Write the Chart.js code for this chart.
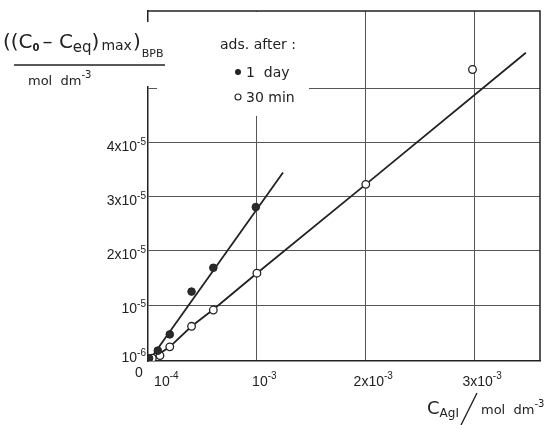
<!DOCTYPE html>
<html>
<head>
<meta charset="utf-8">
<script src="https://cdn.jsdelivr.net/npm/chart.js@4.4.0/dist/chart.umd.min.js"></script>
<style>
  body { margin: 0; background: #fff; }
  #wrap { width: 553px; height: 425px; }
</style>
</head>
<body>
<div id="wrap"><canvas id="chart" width="553" height="425"></canvas></div>
<script>
// --- Data (mol dm^-3) ---
// adsorption after 1 day (filled circles)
const dayX = [0.01e-3, 0.09e-3, 0.2e-3, 0.4e-3, 0.6e-3, 0.99e-3];
const dayY = [0.02e-5, 0.16e-5, 0.46e-5, 1.25e-5, 1.69e-5, 2.81e-5];
// adsorption after 30 min (open circles)
const minX = [0.04e-3, 0.11e-3, 0.2e-3, 0.4e-3, 0.6e-3, 1.0e-3, 2.0e-3, 2.98e-3];
const minY = [0.02e-5, 0.07e-5, 0.23e-5, 0.61e-5, 0.91e-5, 1.59e-5, 3.23e-5, 5.35e-5];
// hand drawn lines
const dayFitX = [0.02e-3, 1.24e-3];
const dayFitY = [0, 3.45e-5];
const minFitX = [0.03e-3, 0.2e-3, 0.4e-3, 0.6e-3, 1.0e-3, 2.0e-3, 3.47e-3];
const minFitY = [0, 0.23e-5, 0.61e-5, 0.92e-5, 1.59e-5, 3.23e-5, 5.66e-5];

// ticks: [base, superscript]
const xTicks = [1e-4, 1e-3, 2e-3, 3e-3];
const xTickLabels = [['10', '-4'], ['10', '-3'], ['2x10', '-3'], ['3x10', '-3']];
const yTicks = [1e-6, 1e-5, 2e-5, 3e-5, 4e-5, 5e-5];
const yTickLabels = [['10', '-6'], ['10', '-5'], ['2x10', '-5'], ['3x10', '-5'], ['4x10', '-5'], ['', '']];

const FONT = "'Liberation Sans', Arial, sans-serif";
const WIDE = "'DejaVu Sans', sans-serif";
const INK = '#222';

function pts(xs, ys) {
  return xs.map((x, i) => ({ x, y: ys[i] }));
}

// draw a run of text pieces: {t, size, dy, bold, gap, fam}
function drawParts(ctx, x, y, parts, align) {
  let total = 0;
  const font = p => (p.bold ? 'bold ' : '') + p.size + 'px ' + (p.fam || FONT);
  parts.forEach(p => {
    ctx.font = font(p);
    p.w = ctx.measureText(p.t).width + (p.gap || 0);
    total += p.w;
  });
  if (align === 'right') x -= total;
  if (align === 'center') x -= total / 2;
  parts.forEach(p => {
    ctx.font = font(p);
    ctx.fillText(p.t, x, y + (p.dy || 0));
    x += p.w;
  });
}

const decorPlugin = {
  id: 'decor',
  beforeDatasetsDraw(chart) {
    const { ctx, chartArea: a } = chart;
    ctx.save();
    // legend area hides the grid
    ctx.fillStyle = '#fff';
    ctx.fillRect(157, a.top + 1, 152, 104);
    // gap in the left axis for the y title
    ctx.fillRect(a.left - 3, 22, 6, 64);
    // top and right frame
    ctx.strokeStyle = INK;
    ctx.lineWidth = 1.5;
    ctx.beginPath();
    ctx.moveTo(a.left - 0.75, a.top);
    ctx.lineTo(a.right, a.top);
    ctx.lineTo(a.right, a.bottom);
    ctx.stroke();
    ctx.restore();
  },
  afterDraw(chart) {
    const { ctx } = chart;
    const xs = chart.scales.x, ys = chart.scales.y;
    ctx.save();
    ctx.fillStyle = INK;
    ctx.textBaseline = 'alphabetic';

    // y tick labels
    yTicks.forEach((v, i) => {
      const [base, sup] = yTickLabels[i];
      if (!base) return;
      const py = ys.getPixelForValue(v);
      drawParts(ctx, 146, py + 8, [
        { t: base, size: 14 },
        { t: sup, size: 10, dy: -6 }
      ], 'right');
    });
    // x tick labels (base centred on the tick)
    xTicks.forEach((v, i) => {
      const [base, sup] = xTickLabels[i];
      const px = xs.getPixelForValue(v);
      ctx.font = '14px ' + FONT;
      const w = ctx.measureText(base).width;
      drawParts(ctx, px + 3 - w / 2, 386, [
        { t: base, size: 14 },
        { t: sup, size: 10, dy: -7 }
      ], 'left');
    });
    // origin
    ctx.font = '14px ' + FONT;
    ctx.textAlign = 'center';
    ctx.fillText('0', 139, 377);
    ctx.textAlign = 'left';

    // y axis title
    drawParts(ctx, 3, 48, [
      { t: '((C', size: 20, fam: WIDE },
      { t: '0', size: 10, dy: 3, bold: true, gap: 3, fam: WIDE },
      { t: '\u2013 C', size: 20, fam: WIDE },
      { t: 'eq', size: 15, dy: 4, fam: WIDE },
      { t: ')', size: 20, gap: 2, fam: WIDE },
      { t: 'max', size: 14, dy: 2, gap: 1, fam: WIDE },
      { t: ')', size: 20, gap: 1, fam: WIDE },
      { t: 'BPB', size: 11, dy: 9, fam: WIDE }
    ], 'left');
    ctx.strokeStyle = INK;
    ctx.lineWidth = 1.4;
    ctx.beginPath();
    ctx.moveTo(14, 65);
    ctx.lineTo(165, 65);
    ctx.stroke();
    drawParts(ctx, 28, 85, [
      { t: 'mol  dm', size: 13, fam: WIDE },
      { t: '-3', size: 10, dy: -7, fam: WIDE }
    ], 'left');

    // x axis title
    drawParts(ctx, 427, 414, [
      { t: 'C', size: 18, fam: WIDE },
      { t: 'AgI', size: 12, dy: 3, fam: WIDE }
    ], 'left');
    ctx.beginPath();
    ctx.moveTo(477, 393);
    ctx.lineTo(461, 425);
    ctx.stroke();
    drawParts(ctx, 481, 414, [
      { t: 'mol  dm', size: 13, fam: WIDE },
      { t: '-3', size: 10, dy: -7, fam: WIDE }
    ], 'left');

    // legend
    drawParts(ctx, 220, 49, [{ t: 'ads. after :', size: 14, fam: WIDE }], 'left');
    ctx.lineWidth = 1.1;
    ctx.beginPath();
    ctx.arc(238, 72, 3, 0, Math.PI * 2);
    ctx.fill();
    ctx.beginPath();
    ctx.arc(238, 97, 3, 0, Math.PI * 2);
    ctx.stroke();
    drawParts(ctx, 246, 77, [{ t: '1  day', size: 14, fam: WIDE }], 'left');
    drawParts(ctx, 246, 102, [{ t: '30 min', size: 14, fam: WIDE }], 'left');
    ctx.restore();
  }
};

const ctx = document.getElementById('chart').getContext('2d');
new Chart(ctx, {
  type: 'scatter',
  data: {
    datasets: [
      {
        label: '1 day',
        data: pts(dayX, dayY),
        pointRadius: 3.8,
        pointBackgroundColor: '#2b2b2b',
        pointBorderColor: INK,
        pointBorderWidth: 1
      },
      {
        label: '30 min',
        data: pts(minX, minY),
        pointRadius: 3.8,
        pointBackgroundColor: '#fff',
        pointBorderColor: INK,
        pointBorderWidth: 1.3
      },
      {
        label: '1 day line',
        data: pts(dayFitX, dayFitY),
        showLine: true,
        pointRadius: 0,
        borderColor: INK,
        borderWidth: 1.8
      },
      {
        label: '30 min line',
        data: pts(minFitX, minFitY),
        showLine: true,
        pointRadius: 0,
        borderColor: INK,
        borderWidth: 1.8
      }
    ]
  },
  options: {
    responsive: false,
    animation: false,
    layout: { padding: { left: 148, right: 13, top: 11, bottom: 64 } },
    plugins: {
      legend: { display: false },
      tooltip: { enabled: false }
    },
    scales: {
      x: {
        type: 'linear',
        min: 0,
        max: 3.6e-3,
        afterBuildTicks: s => { s.ticks = xTicks.map(v => ({ value: v })); },
        ticks: { display: false },
        grid: {
          drawTicks: false,
          color: c => (c.tick && c.tick.value === 1e-4 ? 'rgba(0,0,0,0)' : '#555'),
          lineWidth: 1
        },
        border: { color: INK, width: 1.5 }
      },
      y: {
        type: 'linear',
        min: -0.031e-5,
        max: 6.43e-5,
        afterBuildTicks: s => { s.ticks = yTicks.map(v => ({ value: v })); },
        ticks: { display: false },
        grid: {
          drawTicks: false,
          color: c => (c.tick && c.tick.value === 1e-6 ? 'rgba(0,0,0,0)' : '#555'),
          lineWidth: 1
        },
        border: { color: INK, width: 1.5 }
      }
    }
  },
  plugins: [decorPlugin]
});
</script>
</body>
</html>
